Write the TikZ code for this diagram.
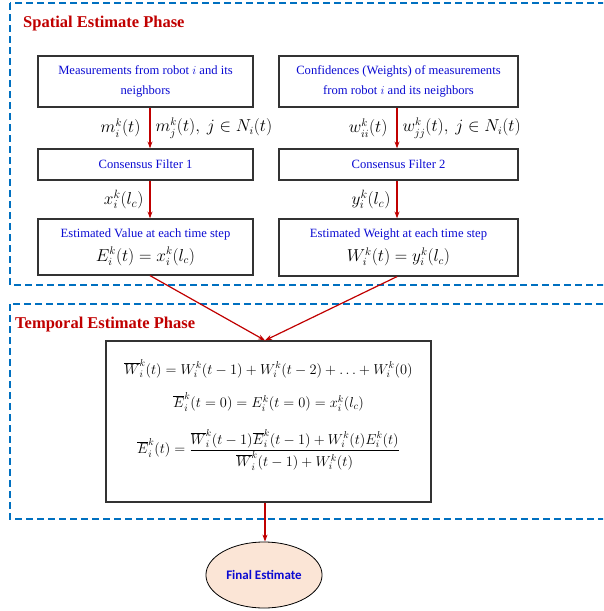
\documentclass[tikz,border=0pt]{standalone}
\usepackage{fontspec}
\setmainfont{Liberation Serif}
\newfontfamily\finalfont{Carlito}
\usetikzlibrary{arrows.meta,shapes.geometric}
\definecolor{phaseblue}{RGB}{0,112,192}
\definecolor{phasered}{RGB}{192,0,0}
\definecolor{textblue}{RGB}{10,10,210}
\definecolor{finalfill}{RGB}{251,229,214}
\newcommand{\mathsz}{\fontsize{16}{19}\selectfont}
\newcommand{\fusionsz}{\fontsize{14.7}{18}\selectfont}

\begin{document}
\begin{tikzpicture}[x=1pt, y=-1pt, >={Stealth[length=7pt,width=5pt]},
    phase/.style={draw=phaseblue, line width=1.6pt, dash pattern=on 7pt off 4pt},
    phasetitle/.style={anchor=west, text=phasered, inner sep=0pt, font=\fontsize{16.5}{19}\selectfont\bfseries},
    box/.style={draw=black!80, line width=1.2pt, align=center, text=textblue, inner sep=2pt, font=\fontsize{12.6}{20}\selectfont},
    flow/.style={->, draw=phasered, line width=1.2pt},
    lbl/.style={font=\mathsz, inner sep=0pt},
    biglbl/.style={font=\fontsize{18}{21}\selectfont, inner sep=0pt}]
    % Zeichenbereich begrenzen
    \clip (0, 0) rectangle (603, 611);

    % 1. Phasen (gestrichelte Rahmen)
    \draw[phase] (10, 3) rectangle (625, 285);
    \draw[phase] (10, 304) rectangle (625, 519);
    \node[phasetitle] (spatial) at (23, 24) {Spatial Estimate Phase};
    \node[phasetitle] (temporal) at (15, 325) {Temporal Estimate Phase};

    % 2. Kaesten der raeumlichen Phase
    \node[box, minimum width=215, minimum height=51] (meas) at (145.5, 81.5)
        {Measurements from robot $i$ and its\\neighbors};
    \node[box, minimum width=239, minimum height=51] (conf) at (398.5, 81.5)
        {Confidences (Weights) of measurements\\from robot $i$ and its neighbors};
    \node[box, minimum width=215, minimum height=31] (filterA) at (145.5, 164.5)
        {Consensus Filter 1};
    \node[box, minimum width=239, minimum height=31] (filterB) at (398.5, 164.5)
        {Consensus Filter 2};
    \node[box, minimum width=215, minimum height=56] (estA) at (145.5, 247)
        {Estimated Value at each time step\\[4pt]{\mathsz\color{black}$E_i^k(t)=x_i^k(l_c)$}};
    \node[box, minimum width=239, minimum height=57] (estB) at (398.5, 247.5)
        {Estimated Weight at each time step\\[4pt]{\mathsz\color{black}$W_i^k(t)=y_i^k(l_c)$}};

    % 3. Kasten der zeitlichen Phase und Endschaetzung
    \node[box, text=black, font=\fusionsz, minimum width=325, minimum height=161] (fusion) at (268.5, 421.5)
        {$\overline{W}_i^k(t)=W_i^k(t-1)+W_i^k(t-2)+\ldots+W_i^k(0)$\\[14pt]
         $\overline{E}_i^k(t=0)=E_i^k(t=0)=x_i^k(l_c)$\\[17pt]
         $\displaystyle\overline{E}_i^k(t)=\frac{\overline{W}_i^k(t-1)\overline{E}_i^k(t-1)+W_i^k(t)E_i^k(t)}{\overline{W}_i^k(t-1)+W_i^k(t)}$\\[12pt]};
    \node[ellipse, draw=black, line width=0.8pt, fill=finalfill, minimum width=104, minimum height=66,
        text=textblue, font=\finalfont\bfseries\fontsize{13}{15}\selectfont] (final) at (264, 575) {Final Estimate};

    % 4. Pfeile mit Beschriftungen
    \coordinate (colA) at (150, 0);
    \coordinate (colB) at (397, 0);
    \coordinate (colC) at (265, 0);
    \draw[flow] (meas.south -| colA) -- (filterA.north -| colA)
        node[midway, lbl, left=9pt] (mLeft) {$m_i^k(t)$}
        node[midway, lbl, right=5pt] (mRight) {$m_j^k(t),\ j\in N_i(t)$};
    \draw[flow] (conf.south -| colB) -- (filterB.north -| colB)
        node[midway, lbl, left=9pt] (wLeft) {$w_{ii}^k(t)$}
        node[midway, lbl, right=5pt] (wRight) {$w_{jj}^k(t),\ j\in N_i(t)$};
    \draw[flow] (filterA.south -| colA) -- (estA.north -| colA)
        node[midway, biglbl, left=6pt] (xLbl) {$x_i^k(l_c)$};
    \draw[flow] (filterB.south -| colB) -- (estB.north -| colB)
        node[midway, biglbl, left=6pt] (yLbl) {$y_i^k(l_c)$};
    \draw[flow] (estA.south -| colA) -- (fusion.north -| colC);
    \draw[flow] (estB.south -| colB) -- (fusion.north -| colC);
    \draw[flow] (fusion.south -| colC) -- (final.north -| colC);

\end{tikzpicture}
\end{document}
